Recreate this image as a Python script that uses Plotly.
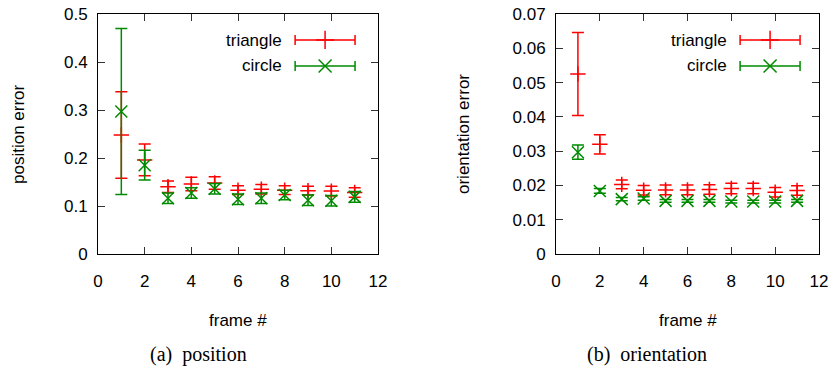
import plotly.graph_objects as go

frames = [1, 2, 3, 4, 5, 6, 7, 8, 9, 10, 11]

# (a) position error
pos_tri_mean = [0.248, 0.196, 0.140, 0.146, 0.148, 0.133, 0.135, 0.133, 0.132, 0.131, 0.128]
pos_tri_err = [0.090, 0.033, 0.012, 0.014, 0.013, 0.009, 0.010, 0.009, 0.009, 0.010, 0.010]
pos_cir_mean = [0.297, 0.185, 0.116, 0.127, 0.136, 0.114, 0.116, 0.123, 0.112, 0.111, 0.119]
pos_cir_err = [0.173, 0.031, 0.011, 0.011, 0.011, 0.011, 0.011, 0.010, 0.011, 0.011, 0.011]

# (b) orientation error
ori_tri_mean = [0.0525, 0.0320, 0.0203, 0.0186, 0.0187, 0.0187, 0.0188, 0.0191, 0.0191, 0.0180, 0.0185]
ori_tri_err = [0.0121, 0.0028, 0.0013, 0.0014, 0.0014, 0.0014, 0.0014, 0.0015, 0.0015, 0.0014, 0.0014]
ori_cir_mean = [0.0297, 0.0184, 0.0160, 0.0162, 0.0155, 0.0155, 0.0155, 0.0153, 0.0153, 0.0153, 0.0155]
ori_cir_err = [0.0021, 0.0007, 0.0005, 0.0005, 0.0004, 0.0004, 0.0004, 0.0004, 0.0004, 0.0004, 0.0004]

series_names = ["triangle", "circle"]
x_ticks = [0, 2, 4, 6, 8, 10, 12]
pos_ticks = [0, 0.1, 0.2, 0.3, 0.4, 0.5]
ori_ticks = [0, 0.01, 0.02, 0.03, 0.04, 0.05, 0.06, 0.07]

RED = "#ff0000"
GREEN = "#008a00"
W, H = 836, 370

fig = go.Figure()


def add_series(xa, ya, mean, err, color, symbol, msize, cap):
    fig.add_trace(go.Scatter(
        x=frames, y=mean, mode="markers", xaxis=xa, yaxis=ya, showlegend=False,
        marker=dict(symbol=symbol, size=msize, color=color,
                    line=dict(color=color, width=1.5)),
        error_y=dict(type="data", array=err, visible=True, color=color,
                     thickness=1.5, width=cap),
    ))


add_series("x", "y", pos_tri_mean, pos_tri_err, RED, "cross-thin-open", 11, 6)
add_series("x", "y", pos_cir_mean, pos_cir_err, GREEN, "x-thin-open", 12, 6)
add_series("x2", "y2", ori_tri_mean, ori_tri_err, RED, "cross-thin-open", 11, 6)
add_series("x2", "y2", ori_cir_mean, ori_cir_err, GREEN, "x-thin-open", 12, 6)

# legend samples on hidden overlay axes (0..1 within each panel)
leg_y = [0.892, 0.783]
leg_specs = [("x3", "y3", 0.811, 0.107), ("x4", "y4", 0.814, 0.114)]
for xa, ya, cx, hw in leg_specs:
    for i, (col, sym) in enumerate([(RED, "cross-thin-open"), (GREEN, "x-thin-open")]):
        fig.add_trace(go.Scatter(
            x=[cx], y=[leg_y[i]], mode="markers", xaxis=xa, yaxis=ya, showlegend=False,
            marker=dict(symbol=sym, size=13, color=col, line=dict(color=col, width=1.5)),
            error_x=dict(type="constant", value=hw, visible=True, color=col,
                         thickness=1.5, width=5),
            hoverinfo="skip",
        ))

left_dom = [98 / W, 378 / W]
right_dom = [556 / W, 819 / W]
y_dom = [1 - 254 / H, 1 - 14 / H]

font = dict(family="Liberation Sans, Arial, sans-serif", size=17, color="black")

axis_common = dict(showline=True, linecolor="black", linewidth=1, mirror="ticks",
                   ticks="inside", ticklen=7, tickwidth=1, tickcolor="#333333",
                   showgrid=False, zeroline=False, tickfont=font, automargin=False)

fig.update_layout(
    width=W, height=H, margin=dict(l=0, r=0, t=0, b=0),
    paper_bgcolor="white", plot_bgcolor="white", showlegend=False,
    xaxis=dict(domain=left_dom, anchor="y", range=[0, 12], tickvals=x_ticks,
               ticklabelstandoff=12, **axis_common),
    yaxis=dict(domain=y_dom, anchor="x", range=[0, 0.5], tickvals=pos_ticks,
               ticktext=[("%g" % v) for v in pos_ticks], ticklabelstandoff=6, **axis_common),
    xaxis2=dict(domain=right_dom, anchor="y2", range=[0, 12], tickvals=x_ticks,
                ticklabelstandoff=12, **axis_common),
    yaxis2=dict(domain=y_dom, anchor="x2", range=[0, 0.07], tickvals=ori_ticks,
                ticktext=[("%g" % v) for v in ori_ticks], ticklabelstandoff=6, **axis_common),
    xaxis3=dict(domain=left_dom, anchor="y3", overlaying="x", range=[0, 1], visible=False),
    yaxis3=dict(domain=y_dom, anchor="x3", overlaying="y", range=[0, 1], visible=False),
    xaxis4=dict(domain=right_dom, anchor="y4", overlaying="x2", range=[0, 1], visible=False),
    yaxis4=dict(domain=y_dom, anchor="x4", overlaying="y2", range=[0, 1], visible=False),
)


def ann(text, px, py, fnt, xanchor="center", angle=0):
    return dict(text=text, x=px / W, y=1 - py / H, xref="paper", yref="paper",
                xanchor=xanchor, yanchor="middle", textangle=angle,
                showarrow=False, font=fnt)


anns = []
# legend labels
for xend in (284, 729):
    for i, nm in enumerate(series_names):
        anns.append(ann(nm, xend, [40, 66][i], font, xanchor="right"))
# axis titles
anns.append(ann("frame #", 238, 320, font))
anns.append(ann("frame #", 688, 320, font))
anns.append(ann("position error", 18, 134, font, angle=-90))
anns.append(ann("orientation error", 463, 134, font, angle=-90))
# captions
cap_font = dict(family="Liberation Serif, Times New Roman, serif", size=20, color="black")
anns.append(ann("(a)  position", 198, 354, cap_font))
anns.append(ann("(b)  orientation", 647, 354, cap_font))
fig.update_layout(annotations=anns)

fig.write_html("out.html", config={"displayModeBar": False},
               post_script="document.body.style.margin='0';document.body.style.padding='0';")
